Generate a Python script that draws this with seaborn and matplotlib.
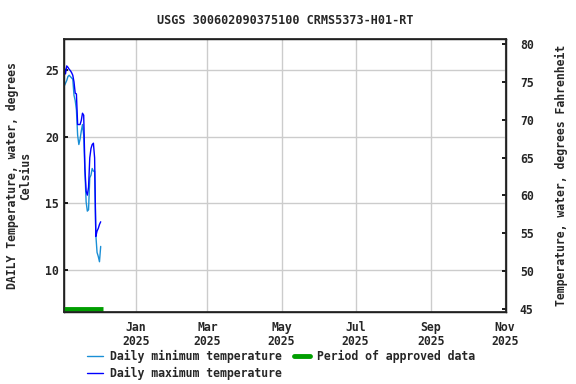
import numpy as np
import pandas as pd
import matplotlib
matplotlib.use("Agg")
import matplotlib.pyplot as plt
import matplotlib.dates as mdates
from matplotlib.lines import Line2D
import seaborn as sns

# ---- data ----
start_date = "2024-11-03"
daily_max = [25.2, 24.7, 25.3, 25.2, 25.05, 24.95, 24.8, 24.6, 24.1, 23.25,
             23.2, 20.9, 20.9, 20.9, 21.2, 21.75, 21.6, 17.6, 15.9, 15.6,
             16.2, 18.4, 19.1, 19.4, 19.5, 18.4, 12.5, 12.9, 13.1, 13.4, 13.6]
daily_min = [23.8, 24.0, 24.2, 24.5, 24.6, 24.5, 24.4, 24.3, 23.1, 22.7,
             22.0, 20.1, 19.4, 19.8, 20.4, 20.9, 20.1, 17.4, 15.1, 14.4,
             14.5, 16.9, 17.1, 17.6, 17.4, 17.4, 12.6, 11.3, 11.0, 10.6, 11.75]
approved_start = "2024-11-02"
approved_end = "2024-12-05"
title = "USGS 300602090375100 CRMS5373-H01-RT"
month_ticks = ["2025-01-01", "2025-03-01", "2025-05-01", "2025-07-01", "2025-09-01", "2025-11-01"]
month_labels = ["Jan\n2025", "Mar\n2025", "May\n2025", "Jul\n2025", "Sep\n2025", "Nov\n2025"]
left_ticks = [10, 15, 20, 25]
right_ticks = [45, 50, 55, 60, 65, 70, 75, 80]

dates = pd.date_range(start_date, periods=len(daily_max), freq="D")
df = pd.DataFrame({"date": dates, "max": daily_max, "min": daily_min})

sns.set_theme(style="white")
plt.rcParams["font.family"] = ["DejaVu Sans Mono"]
plt.rcParams["font.weight"] = "bold"
FS = 8.3

MIN_C = "#1a8fd6"
MAX_C = "#0000ff"
GREEN = "#009e00"

fig = plt.figure(figsize=(5.76, 3.84), dpi=100)
ax = fig.add_axes([0.1116, 0.1883, 0.8785 - 0.1116, 0.8977 - 0.1883])

sns.lineplot(data=df, x="date", y="min", ax=ax, color=MIN_C, lw=1.0)
sns.lineplot(data=df, x="date", y="max", ax=ax, color=MAX_C, lw=1.0)

ylo, yhi = 6.85, 27.3
ax.set_ylim(ylo, yhi)
ax.set_xlim(pd.Timestamp("2024-11-03"), pd.Timestamp("2025-11-02"))

ax.plot([pd.Timestamp(approved_start), pd.Timestamp(approved_end)],
        [ylo + 0.22, ylo + 0.22], color=GREEN, lw=3.5, solid_capstyle="butt",
        clip_on=False, zorder=5)

ax.set_xticks([pd.Timestamp(t) for t in month_ticks])
ax.set_xticklabels(month_labels, fontsize=FS, fontweight="bold", linespacing=1.05)
ax.set_yticks(left_ticks)
ax.set_yticklabels([str(t) for t in left_ticks], fontsize=FS, fontweight="bold")
ax.grid(True, color="#cccccc", lw=1.0)
ax.set_axisbelow(True)
ax.set_xlabel("")
ax.set_ylabel("DAILY Temperature, water, degrees\nCelsius", fontsize=FS,
              fontweight="bold", labelpad=9, linespacing=1.0)
for s in ax.spines.values():
    s.set_color("black")
    s.set_linewidth(1.0)
ax.tick_params(axis="both", direction="in", length=3, color="black", pad=4)
ax.tick_params(axis="x", length=0, pad=7)

ax2 = ax.twinx()
ax2.set_ylim(44.64, 80.62)
ax2.set_yticks(right_ticks)
ax2.set_yticklabels([str(t) for t in right_ticks], fontsize=FS, fontweight="bold")
ax2.tick_params(axis="y", direction="in", length=3, color="black", pad=10)
ax2.set_ylabel("Temperature, water, degrees Fahrenheit", fontsize=FS,
               fontweight="bold", labelpad=15)
ax2.grid(False)

ax.set_title(title, fontsize=8.5, fontweight="bold", pad=11)

h1 = Line2D([], [], color=MIN_C, lw=1.0)
h2 = Line2D([], [], color=MAX_C, lw=1.0)
h3 = Line2D([], [], color=GREEN, lw=3.5)
leg = fig.legend([h1, h2, h3],
                 ["Daily minimum temperature", "Daily maximum temperature",
                  "Period of approved data"],
                 ncol=2, loc="upper left", bbox_to_anchor=(0.151, 0.088),
                 frameon=False, fontsize=FS, handlelength=1.4,
                 handletextpad=0.6, columnspacing=1.05, labelspacing=0.35,
                 borderpad=0, borderaxespad=0)
for t in leg.get_texts():
    t.set_fontweight("bold")

fig.savefig("out.png", dpi=100)
